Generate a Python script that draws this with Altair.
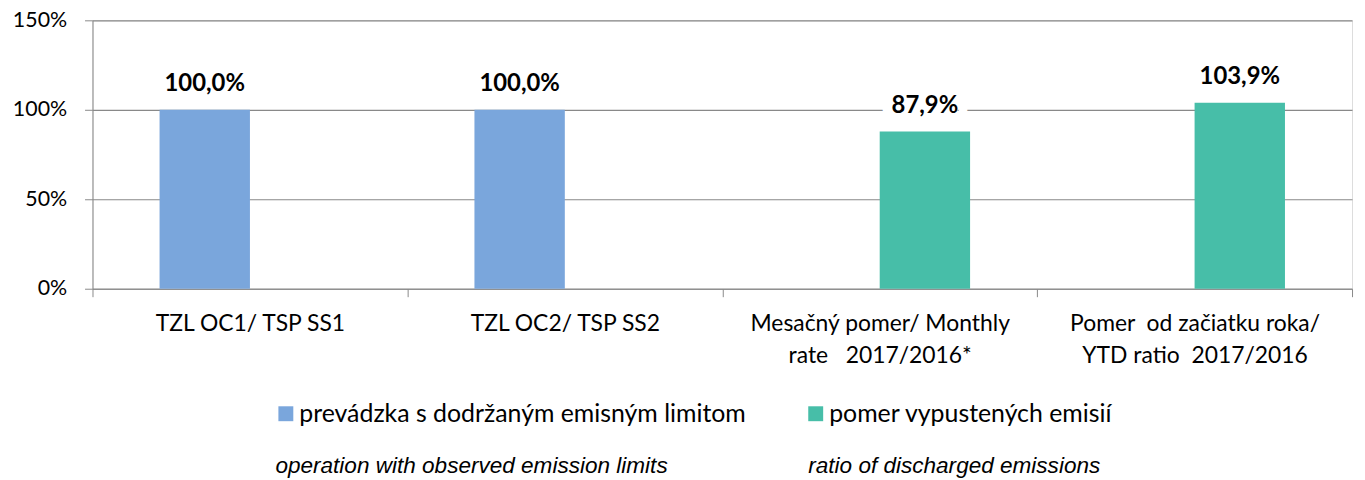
import altair as alt
import pandas as pd

# ---- data ----
categories = [
    "TZL OC1/ TSP SS1",
    "TZL OC2/ TSP SS2",
    "Mesačný pomer/ Monthly|rate \u00a0 2017/2016*",
    "Pomer \u00a0od začiatku roka/|YTD ratio \u00a02017/2016",
]
series_names = ["prevádzka s dodržaným emisným limitom", "pomer vypustených emisií"]
bar_series = [series_names[0], series_names[0], series_names[1], series_names[1]]
values = [1.000, 1.000, 0.879, 1.039]
series_colors = ["#7aa6dc", "#47bea8"]
captions = ["operation with observed emission limits", "ratio of discharged emissions"]
y_ticks = [0, 0.5, 1.0, 1.5]

df = pd.DataFrame({"category": categories, "series": bar_series, "value": values})

W, H = 1267, 270
GRAY = "#898989"
CAL = "Lato"

x_enc = alt.X(
    "category:N",
    sort=categories,
    scale=alt.Scale(paddingInner=0, paddingOuter=0),
    axis=alt.Axis(
        title=None, labelAngle=0, tickBand="extent",
        labelExpr="split(datum.label, '|')",
        labelFont=CAL, labelFontSize=23, labelColor="black",
        labelLineHeight=32, labelPadding=16, labelLimit=400,
        tickSize=8, tickColor=GRAY, domainColor=GRAY, grid=False,
    ),
)
xoff_enc = alt.XOffset(
    "series:N",
    scale=alt.Scale(domain=series_names, paddingInner=0, paddingOuter=0.742),
)
y_enc = alt.Y(
    "value:Q",
    scale=alt.Scale(domain=[0, 1.5], nice=False),
    axis=alt.Axis(
        title=None, values=y_ticks, format=".0%",
        labelFont=CAL, labelFontSize=21.5, labelColor="black",
        labelPadding=18, tickSize=8, tickColor=GRAY, domainColor=GRAY,
        grid=True, gridColor=GRAY, gridWidth=1.2,
    ),
)

base = alt.Chart(df).transform_calculate(
    label="replace(format(datum.value, '.1%'), '.', ',')"
)

bars = base.mark_bar().encode(
    x=x_enc,
    xOffset=xoff_enc,
    y=y_enc,
    color=alt.Color(
        "series:N",
        scale=alt.Scale(domain=series_names, range=series_colors),
        legend=alt.Legend(
            title=None, orient="none", direction="horizontal",
            legendX=182, legendY=383,
            symbolType="square", symbolSize=225, symbolStrokeWidth=0,
            labelFont=CAL, labelFontSize=25, labelColor="black",
            labelOffset=1, columnPadding=57, labelLimit=700,
        ),
    ),
)

txt_x = alt.X("category:N", sort=categories)

halo = base.mark_text(
    font=CAL, fontSize=24, fontWeight="bold", baseline="alphabetic", dy=-19,
    stroke="white", strokeWidth=20, color="white",
).encode(x=txt_x, xOffset=xoff_enc, y="value:Q", text="label:N")

labels = base.mark_text(
    font=CAL, fontSize=24, fontWeight="bold", baseline="alphabetic", dy=-19, color="black",
).encode(x=txt_x, xOffset=xoff_enc, y="value:Q", text="label:N")

cap1 = alt.Chart(alt.Data(values=[{}])).mark_text(
    text=captions[0], font="Liberation Sans", fontStyle="italic", fontSize=22.7,
    align="left", baseline="middle", color="black",
).encode(x=alt.value(184), y=alt.value(448))

cap2 = alt.Chart(alt.Data(values=[{}])).mark_text(
    text=captions[1], font="Liberation Sans", fontStyle="italic", fontSize=22.7,
    align="left", baseline="middle", color="black",
).encode(x=alt.value(720), y=alt.value(448))

chart = alt.layer(bars, halo, labels, cap1, cap2).properties(
    width=W, height=H,
    autosize=alt.AutoSizeParams(type="none"),
    padding={"left": 85, "top": 11, "right": 5, "bottom": 190},
).configure_view(stroke=None).configure(background="white")

chart.save("out.html", embed_options={"renderer": "svg", "actions": False})
